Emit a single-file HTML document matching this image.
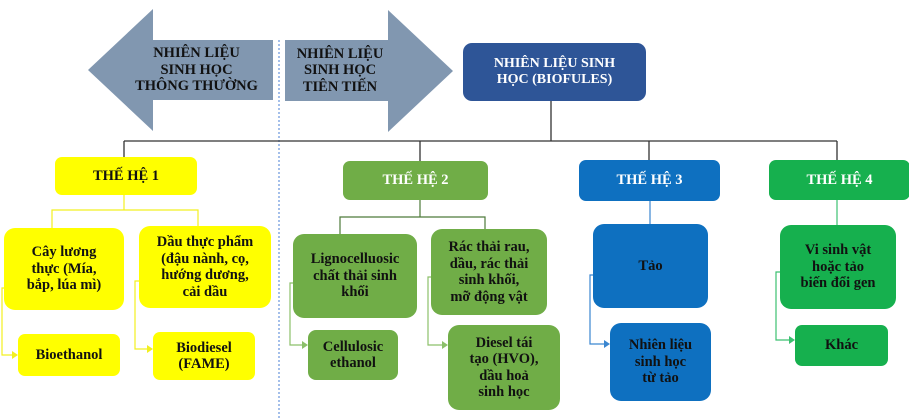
<!DOCTYPE html>
<html><head><meta charset="utf-8"><style>
body{margin:0;width:909px;height:418px;background:#fff;overflow:hidden;position:relative;font-family:"Liberation Serif","Noto Serif CJK SC",serif;font-weight:bold}
.b{position:absolute;display:flex;align-items:center;justify-content:center;text-align:center;box-sizing:border-box;border-radius:11px;font-size:14.5px;line-height:16.5px}
.y{background:#FFFF00;color:#111}
.g{background:#70AD47;color:#111}
.bl{background:#0E70C0;color:#111}
.gg{background:#16B04E;color:#111}
.w{color:#fff}
svg{position:absolute;left:0;top:0}
</style></head><body>
<svg width="909" height="418">
<polygon points="88,70 153,9 153,40 273,40 273,100 153,100 153,131" fill="#8197B0"/>
<polygon points="285,40 388,40 388,10 453,71 388,132 388,101 285,101" fill="#8197B0"/>
<line x1="279" y1="40" x2="279" y2="418" stroke="#4a7fd6" stroke-width="1" stroke-dasharray="2,2"/>
<g stroke="#333" stroke-width="1.3" fill="none">
<line x1="551" y1="101" x2="551" y2="141"/>
<line x1="124" y1="141" x2="837" y2="141"/>
<line x1="124" y1="141" x2="124" y2="157"/>
<line x1="420" y1="141" x2="420" y2="161"/>
<line x1="649" y1="141" x2="649" y2="160"/>
<line x1="837" y1="141" x2="837" y2="160"/>
</g>
<g stroke="#f2f020" stroke-width="1.2" fill="none">
<polyline points="124,195 124,210"/>
<polyline points="52,228 52,210 198,210 198,226"/>
<polyline points="4,288 2,288 2,355 14,355"/>
<polyline points="139,281 135,281 135,349 149,349"/>
</g>
<polygon points="18,355 12,351 12,359" fill="#f2f020"/>
<polygon points="153,349 147,345 147,353" fill="#f2f020"/>
<g stroke="#4e7a3a" stroke-width="1.2" fill="none">
<polyline points="420,200 420,217"/>
<polyline points="340,234 340,217 485,217 485,229"/>
</g>
<g stroke="#8cc06a" stroke-width="1.2" fill="none">
<polyline points="293,283 290,283 290,345 304,345"/>
<polyline points="431,277 428,277 428,345 444,345"/>
</g>
<polygon points="308,345 302,341 302,349" fill="#8cc06a"/>
<polygon points="448,345 442,341 442,349" fill="#8cc06a"/>
<g stroke="#3a86d0" stroke-width="1.2" fill="none">
<polyline points="650,201 650,224"/>
<polyline points="593,275 590,275 590,344 606,344"/>
</g>
<polygon points="610,344 604,340 604,348" fill="#3a86d0"/>
<g stroke="#3cc070" stroke-width="1.2" fill="none">
<polyline points="837,200 837,225"/>
<polyline points="780,272 776,272 776,340 791,340"/>
</g>
<polygon points="795,340 789,336 789,344" fill="#3cc070"/>
</svg>
<div class="b" style="left:120px;top:40px;width:153px;height:60px;color:#111;font-size:14.5px">NHIÊN LIỆU<br>SINH HỌC<br>THÔNG THƯỜNG</div>
<div class="b" style="left:290px;top:40px;width:100px;height:61px;color:#111;font-size:14.5px">NHIÊN LIỆU<br>SINH HỌC<br>TIÊN TIẾN</div>
<div class="b w" style="left:463px;top:43px;width:183px;height:58px;background:#2E5597;font-size:14px;border-radius:9px">NHIÊN LIỆU SINH<br>HỌC (BIOFULES)</div>
<div class="b y" style="left:55px;top:157px;width:142px;height:38px;border-radius:7px">THẾ HỆ 1</div>
<div class="b g w" style="left:343px;top:161px;width:145px;height:39px;border-radius:7px">THẾ HỆ 2</div>
<div class="b bl w" style="left:579px;top:160px;width:141px;height:41px;border-radius:7px">THẾ HỆ 3</div>
<div class="b gg w" style="left:769px;top:160px;width:141px;height:40px;border-radius:7px">THẾ HỆ 4</div>
<div class="b y" style="left:4px;top:228px;width:120px;height:82px">Cây lương<br>thực (Mía,<br>bắp, lúa mì)</div>
<div class="b y" style="left:139px;top:226px;width:132px;height:82px">Dầu thực phẩm<br>(đậu nành, cọ,<br>hướng dương,<br>cải dầu</div>
<div class="b y" style="left:18px;top:334px;width:102px;height:42px;border-radius:7px">Bioethanol</div>
<div class="b y" style="left:153px;top:332px;width:102px;height:48px;border-radius:7px">Biodiesel<br>(FAME)</div>
<div class="b g" style="left:293px;top:234px;width:124px;height:84px">Lignocelluosic<br>chất thải sinh<br>khối</div>
<div class="b g" style="left:431px;top:229px;width:116px;height:86px">Rác thải rau,<br>dầu, rác thải<br>sinh khối,<br>mỡ động vật</div>
<div class="b g" style="left:308px;top:330px;width:90px;height:50px;border-radius:8px">Cellulosic<br>ethanol</div>
<div class="b g" style="left:448px;top:325px;width:112px;height:85px">Diesel tái<br>tạo (HVO),<br>dầu hoả<br>sinh học</div>
<div class="b bl" style="left:593px;top:224px;width:115px;height:84px">Tảo</div>
<div class="b bl" style="left:610px;top:323px;width:101px;height:78px">Nhiên liệu<br>sinh học<br>từ tảo</div>
<div class="b gg" style="left:780px;top:225px;width:116px;height:84px">Vi sinh vật<br>hoặc tảo<br>biến đổi gen</div>
<div class="b gg" style="left:795px;top:325px;width:93px;height:41px;border-radius:7px">Khác</div>
</body></html>
